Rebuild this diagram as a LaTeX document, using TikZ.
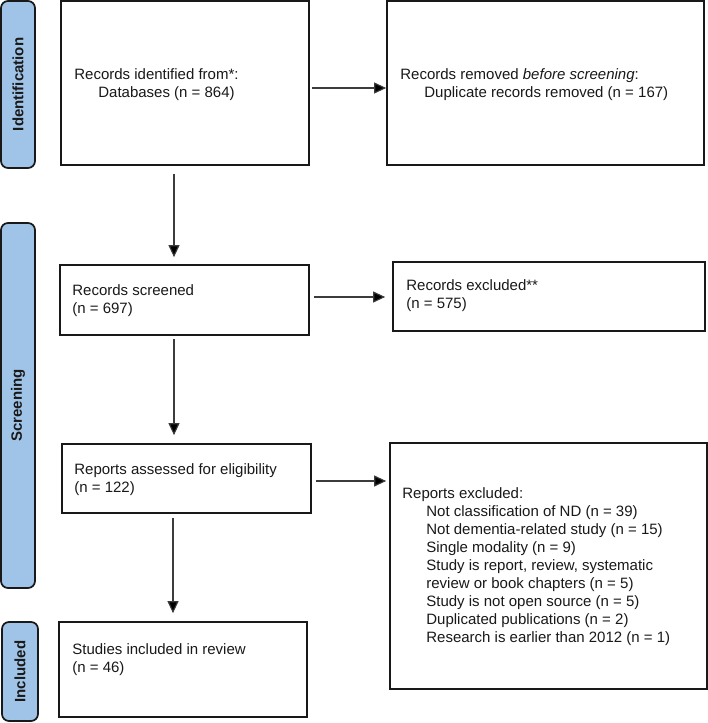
\documentclass[tikz,border=0pt]{standalone}
\usepackage{fontspec}
\setmainfont{Liberation Sans}
\usetikzlibrary{arrows.meta}
\definecolor{barblue}{RGB}{160,196,232}
\definecolor{ink}{RGB}{25,25,25}
\definecolor{txtc}{RGB}{25,25,25}
\definecolor{linec}{RGB}{60,60,60}
\begin{document}
\begin{tikzpicture}[x=1pt,y=-1pt,
  every node/.style={font=\fontsize{15}{18}\selectfont, text=txtc},
  box/.style={draw=ink, line width=1.7pt, fill=white, inner sep=0pt},
  bar/.style={draw=ink, line width=1.7pt, fill=barblue, rounded corners=7pt, inner sep=0pt, rotate=90, font=\fontsize{15}{18}\selectfont\bfseries},
  txt/.style={anchor=west, align=left, inner sep=0pt},
  arr/.style={draw=linec, line width=1.1pt, -{Triangle[length=12pt,width=11pt,fill=black]}}
]
\useasboundingbox (0,0) rectangle (708,723);

% phase bars
\node[bar, minimum width=167pt, minimum height=34pt] (s1) at (18,84.5) {Identification};
\node[bar, minimum width=365pt, minimum height=34pt] (s2) at (18,405.5) {Screening};
\node[bar, minimum width=99pt, minimum height=36pt] (s3) at (20,671.5) {Included};

% boxes
\node[box, minimum width=248pt, minimum height=164pt] (b1) at (185,83) {};
\node[box, minimum width=317pt, minimum height=164pt] (b2) at (545.5,83) {};
\node[box, minimum width=249pt, minimum height=70pt] (b3) at (184.5,300) {};
\node[box, minimum width=312pt, minimum height=69pt] (b4) at (549,296.5) {};
\node[box, minimum width=249pt, minimum height=69pt] (b5) at (186.5,478.5) {};
\node[box, minimum width=317pt, minimum height=246pt] (b6) at (548.5,566) {};
\node[box, minimum width=248pt, minimum height=95pt] (b7) at (183,669.5) {};

% texts
\node[txt] (t1) at ([xshift=14pt,yshift=-2pt]b1.west) {Records identified from*:\\\hspace*{24pt}Databases (n = 864)};
\node[txt] (t2) at ([xshift=14pt,yshift=-2pt]b2.west) {Records removed \textit{before screening}:\\\hspace*{24pt}Duplicate records removed (n = 167)};
\node[txt] (t3) at ([xshift=13pt,yshift=-1pt]b3.west) {Records screened\\(n = 697)};
\node[txt] (t4) at ([xshift=14pt,yshift=1pt]b4.west) {Records excluded**\\(n = 575)};
\node[txt] (t5) at ([xshift=13pt,yshift=-1pt]b5.west) {Reports assessed for eligibility\\(n = 122)};
\node[txt] (t6) at ([xshift=13pt,yshift=-1pt]b6.west) {Reports excluded:\\
\hspace*{24pt}Not classification of ND (n = 39)\\
\hspace*{24pt}Not dementia-related study (n = 15)\\
\hspace*{24pt}Single modality (n = 9)\\
\hspace*{24pt}Study is report, review, systematic\\
\hspace*{24pt}review or book chapters (n = 5)\\
\hspace*{24pt}Study is not open source (n = 5)\\
\hspace*{24pt}Duplicated publications (n = 2)\\
\hspace*{24pt}Research is earlier than 2012 (n = 1)};
\node[txt] (t7) at ([xshift=14pt,yshift=10pt]b7.west) {Studies included in review\\(n = 46)};

% connectors
\draw[arr, shorten <=2pt] ([yshift=-5pt]b1.east) -- ([yshift=-5pt]b1.east -| b2.west);
\draw[arr, shorten <=8pt, shorten >=7pt] ([xshift=-11pt]b1.south) -- ([xshift=-11pt]b1.south |- b3.north);
\draw[arr, shorten <=4pt, shorten >=7pt] ([yshift=3pt]b3.east) -- ([yshift=3pt]b3.east -| b4.west);
\draw[arr, shorten <=3pt, shorten >=8pt] ([xshift=-10.5pt]b3.south) -- ([xshift=-10.5pt]b3.south |- b5.north);
\draw[arr, shorten <=4pt, shorten >=3pt] ([yshift=-2.5pt]b5.east) -- ([yshift=-2.5pt]b5.east -| b6.west);
\draw[arr, shorten <=4pt, shorten >=8pt] ([xshift=-13.5pt]b5.south) -- ([xshift=-13.5pt]b5.south |- b7.north);
\end{tikzpicture}
\end{document}
